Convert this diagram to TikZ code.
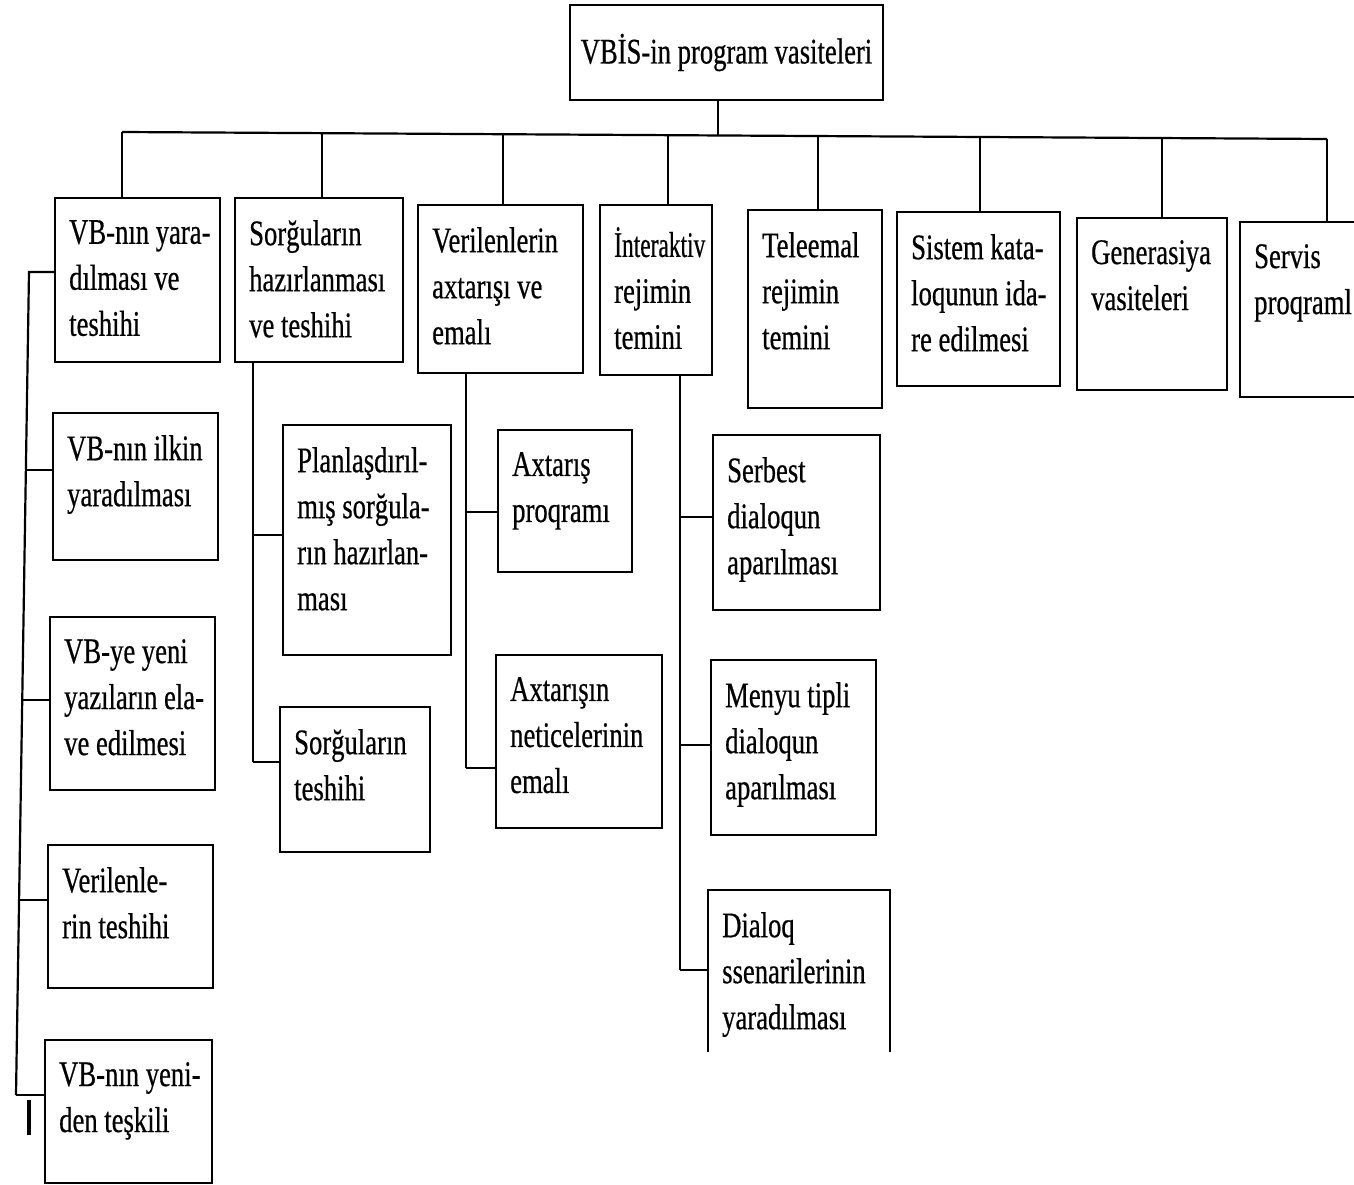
\documentclass[tikz,border=0pt]{standalone}
\usepackage{fontspec}
\setmainfont{Liberation Serif}[FakeStretch=0.74,FakeBold=0.5]
% box with its text set flush left from the upper left corner
\newcommand\labelledbox[6]{%
  \node[box, minimum width={(#4-#2)*1pt}, minimum height={(#5-#3)*1pt}] (#1) at (#2,#3) {};
  \node[lbl] (#1t) at ([shift={(14,22)}]#1.north west) {#6};
}
\begin{document}
\begin{tikzpicture}[x=1pt,y=-1pt,
  wire/.style={line width=2.2pt},
  boxline/.style={line width=2.8pt},
  box/.style={draw, boxline, rectangle, anchor=north west, inner sep=0pt, outer sep=0pt},
  openbox/.style={rectangle, anchor=north west, inner sep=0pt, outer sep=0pt},
  lbl/.style={anchor=north west, inner sep=0pt, align=left,
    font=\fontsize{36}{46}\selectfont, execute at begin node=\strut}]

\fill[white] (0,0) rectangle (1354,1185);
\useasboundingbox (0,0) rectangle (1354,1185);

% root
\node[box, minimum width=313pt, minimum height=95pt,
      font=\fontsize{36}{46}\selectfont] (root) at (570,5) {VBİS-in program vasiteleri};

% first level
\labelledbox{b1}{55}{198}{220}{362}{VB-nın yara-\\dılması ve\\teshihi}
\labelledbox{b2}{235}{198}{403}{362}{Sorğuların\\hazırlanması\\ve teshihi}
\labelledbox{b3}{418}{205}{583}{373}{Verilenlerin\\axtarışı ve\\emalı}
\labelledbox{b4}{600}{205}{712}{375}{\scalebox{0.88}[1]{İnteraktiv}\\rejimin\\temini}
\labelledbox{b5}{748}{210}{882}{408}{Teleemal\\rejimin\\temini}
\labelledbox{b6}{897}{212}{1060}{386}{Sistem kata-\\loqunun ida-\\re edilmesi}
\labelledbox{b7}{1077}{218}{1227}{390}{Generasiya\\vasiteleri}
\node[openbox, minimum width=130pt, minimum height=175pt] (b8) at (1240,222) {};
\draw[boxline] (b8.north east) -- (b8.north west) -- (b8.south west) -- (b8.south east);
\node[lbl] (b8t) at ([shift={(14,22)}]b8.north west) {Servis\\proqraml};

% children of b1
\labelledbox{k1}{53}{413}{218}{560}{VB-nın ilkin\\yaradılması}
\labelledbox{k2}{50}{617}{215}{790}{VB-ye yeni\\yazıların ela-\\ve edilmesi}
\labelledbox{k3}{48}{845}{213}{988}{Verilenle-\\rin teshihi}
\labelledbox{k4}{45}{1040}{212}{1183}{VB-nın yeni-\\den teşkili}

% children of b2
\labelledbox{p1}{283}{425}{451}{655}{Planlaşdırıl-\\mış sorğula-\\rın hazırlan-\\ması}
\labelledbox{p2}{280}{707}{430}{852}{Sorğuların\\teshihi}

% children of b3
\labelledbox{a1}{498}{430}{632}{572}{Axtarış\\proqramı}
\labelledbox{a2}{496}{655}{662}{828}{Axtarışın\\neticelerinin\\emalı}

% children of b4
\labelledbox{i1}{713}{435}{880}{610}{Serbest\\dialoqun\\aparılması}
\labelledbox{i2}{711}{660}{876}{835}{Menyu tipli\\dialoqun\\aparılması}
\node[openbox, minimum width=182pt, minimum height=162pt] (i3) at (708,890) {};
\draw[boxline] (i3.south west) -- (i3.north west) -- (i3.north east) -- (i3.south east);
\node[lbl] (i3t) at ([shift={(14,22)}]i3.north west) {Dialoq\\ssenarilerinin\\yaradılması};

% main bus
\coordinate (j1) at (122,132);
\coordinate (j2) at (322,133.2);
\coordinate (j3) at (503,134.2);
\coordinate (j4) at (668,135.2);
\coordinate (j0) at (718,135.5);
\coordinate (j5) at (818,136);
\coordinate (j6) at (980,137);
\coordinate (j7) at (1162,138);
\coordinate (j8) at (1327,139);
\draw[wire] (j1) -- (j8);
\draw[wire] (root.south -| j0) -- (j0);
\foreach \i in {1,...,8} \draw[wire] (j\i) -- (b\i.north -| j\i);

% spine of b1
\coordinate (s0) at (29,272);
\coordinate (s1) at (26,470);
\coordinate (s2) at (22.5,700);
\coordinate (s3) at (19.4,900);
\coordinate (s4) at (16,1095);
\draw[wire] (b1.west |- s0) -- (s0) -- (s4);
\foreach \i in {1,...,4} \draw[wire] (s\i) -- (k\i.west |- s\i);
\coordinate (tk1) at (29,1100);
\coordinate (tk2) at (29,1135);
\draw[line width=4pt] (tk1) -- (tk2);

% spine of b2
\coordinate (q1) at (253,535);
\coordinate (q2) at (253,762);
\draw[wire] (b2.south -| q1) -- (q2);
\foreach \i in {1,2} \draw[wire] (q\i) -- (p\i.west |- q\i);

% spine of b3
\coordinate (r1) at (466,512);
\coordinate (r2) at (466,768);
\draw[wire] (b3.south -| r1) -- (r2);
\foreach \i in {1,2} \draw[wire] (r\i) -- (a\i.west |- r\i);

% spine of b4
\coordinate (u1) at (680,517);
\coordinate (u2) at (680,745);
\coordinate (u3) at (680,970);
\draw[wire] (b4.south -| u1) -- (u3);
\foreach \i in {1,2,3} \draw[wire] (u\i) -- (i\i.west |- u\i);

\end{tikzpicture}
\end{document}
